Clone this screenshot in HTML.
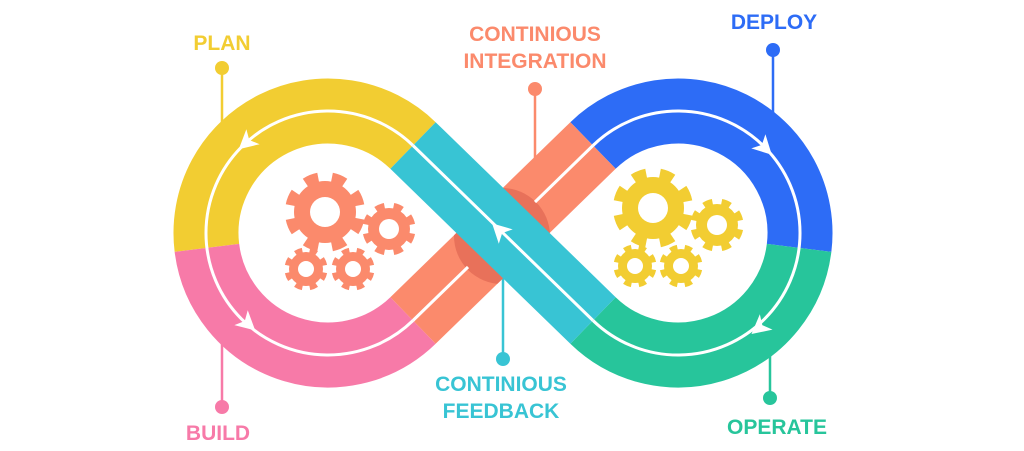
<!DOCTYPE html>
<html><head><meta charset="utf-8"><style>
html,body{margin:0;padding:0;background:#fff;}
svg{display:block;}
text{font-family:"Liberation Sans",sans-serif;font-weight:bold;font-size:21px;}
</style></head><body>
<svg width="1024" height="451" viewBox="0 0 1024 451" xmlns="http://www.w3.org/2000/svg">
<defs>
<clipPath id="oc"><polygon points="435.7,343.8 615.7,168.8 570.3,122.2 390.3,297.2"/></clipPath>
</defs>
<!-- leader lines -->
<g stroke-width="2.5">
<line x1="222" y1="68" x2="222" y2="130" stroke="#f2cd32"/>
<line x1="222" y1="407" x2="222" y2="340" stroke="#f77aa8"/>
<line x1="535" y1="89" x2="535" y2="200" stroke="#fb8a6c"/>
<line x1="503" y1="359" x2="503" y2="260" stroke="#38c4d4"/>
<line x1="773" y1="50" x2="773" y2="150" stroke="#2d6cf6"/>
<line x1="770" y1="398" x2="770" y2="320" stroke="#27c59b"/>
</g>
<circle cx="222" cy="68" r="7" fill="#f2cd32"/>
<circle cx="222" cy="407" r="7" fill="#f77aa8"/>
<circle cx="535" cy="89" r="7" fill="#fb8a6c"/>
<circle cx="503" cy="359" r="7" fill="#38c4d4"/>
<circle cx="773" cy="50" r="7" fill="#2d6cf6"/>
<circle cx="770" cy="398" r="7" fill="#27c59b"/>
<!-- bands -->
<g fill="none" stroke-width="65">
<path d="M413,145.5 A122,122 0 0 0 206.9,247.9" stroke="#f2cd32"/>
<path d="M206.9,247.9 A122,122 0 0 0 413,320.5" stroke="#f77aa8"/>
<path d="M593,145.5 A122,122 0 0 1 799.1,247.9" stroke="#2d6cf6"/>
<path d="M799.1,247.9 A122,122 0 0 1 593,320.5" stroke="#27c59b"/>
<line x1="413" y1="320.5" x2="593" y2="145.5" stroke="#fb8a6c"/>
</g>
<circle cx="502" cy="236" r="48" fill="#e8715a" clip-path="url(#oc)"/>
<!-- white lines under teal -->
<g fill="none" stroke="#fff" stroke-width="3">
<path d="M413,145.5 A122,122 0 1 0 413,320.5"/>
<path d="M593,145.5 A122,122 0 1 1 593,320.5"/>
<line x1="413" y1="320.5" x2="468" y2="267"/>
<line x1="535" y1="202" x2="593" y2="145.5"/>
</g>
<line x1="403" y1="155.2" x2="593" y2="320.5" stroke="#38c4d4" stroke-width="65" opacity="0"/>
<line x1="413" y1="145.5" x2="593" y2="320.5" stroke="#38c4d4" stroke-width="65"/>
<line x1="413" y1="145.5" x2="593" y2="320.5" stroke="#fff" stroke-width="3"/>
<!-- arrows -->
<g fill="#fff">
<polygon points="11,0 -8,-10 -3,0 -8,10" transform="translate(247,142) rotate(138.5)"/>
<polygon points="11,0 -8,-10 -3,0 -8,10" transform="translate(247,323) rotate(42)"/>
<polygon points="11,0 -8,-10 -3,0 -8,10" transform="translate(500,231) rotate(224)"/>
<polygon points="11,0 -8,-10 -3,0 -8,10" transform="translate(764,147) rotate(45)"/>
<polygon points="11,0 -8,-10 -3,0 -8,10" transform="translate(760,327) rotate(140.6)"/>
</g>
<!-- gears -->
<g>
<g transform="translate(325,212)"><circle r="31" fill="#fb8a6c"/><circle r="35" fill="none" stroke="#fb8a6c" stroke-width="10" stroke-dasharray="13.74 13.74" transform="rotate(11)"/><circle r="15" fill="#fff"/></g>
<g transform="translate(389,229)"><circle r="21" fill="#fb8a6c"/><circle r="23" fill="none" stroke="#fb8a6c" stroke-width="7" stroke-dasharray="9.03 9.03" transform="rotate(11)"/><circle r="10" fill="#fff"/></g>
<g transform="translate(306,269)"><circle r="17" fill="#fb8a6c"/><circle r="18.5" fill="none" stroke="#fb8a6c" stroke-width="6" stroke-dasharray="7.26 7.26" transform="rotate(11)"/><circle r="8" fill="#fff"/></g>
<g transform="translate(353,269)"><circle r="17" fill="#fb8a6c"/><circle r="18.5" fill="none" stroke="#fb8a6c" stroke-width="6" stroke-dasharray="7.26 7.26" transform="rotate(11)"/><circle r="8" fill="#fff"/></g>
<g transform="translate(653,208)"><circle r="31" fill="#f2cd32"/><circle r="35" fill="none" stroke="#f2cd32" stroke-width="10" stroke-dasharray="13.74 13.74" transform="rotate(11)"/><circle r="15" fill="#fff"/></g>
<g transform="translate(717,225)"><circle r="21" fill="#f2cd32"/><circle r="23" fill="none" stroke="#f2cd32" stroke-width="7" stroke-dasharray="9.03 9.03" transform="rotate(11)"/><circle r="10" fill="#fff"/></g>
<g transform="translate(635,266)"><circle r="17" fill="#f2cd32"/><circle r="18.5" fill="none" stroke="#f2cd32" stroke-width="6" stroke-dasharray="7.26 7.26" transform="rotate(11)"/><circle r="8" fill="#fff"/></g>
<g transform="translate(681,266)"><circle r="17" fill="#f2cd32"/><circle r="18.5" fill="none" stroke="#f2cd32" stroke-width="6" stroke-dasharray="7.26 7.26" transform="rotate(11)"/><circle r="8" fill="#fff"/></g>
</g>
<!-- labels -->
<text x="222" y="50" fill="#f2cd32" text-anchor="middle">PLAN</text>
<text x="535" y="41" fill="#fb8a6c" text-anchor="middle">CONTINIOUS</text>
<text x="535" y="68" fill="#fb8a6c" text-anchor="middle">INTEGRATION</text>
<text x="774" y="29" fill="#2d6cf6" text-anchor="middle">DEPLOY</text>
<text x="218" y="440" fill="#f77aa8" text-anchor="middle">BUILD</text>
<text x="501" y="391" fill="#38c4d4" text-anchor="middle">CONTINIOUS</text>
<text x="501" y="418" fill="#38c4d4" text-anchor="middle">FEEDBACK</text>
<text x="777" y="434" fill="#27c59b" text-anchor="middle">OPERATE</text>
</svg>
</body></html>
